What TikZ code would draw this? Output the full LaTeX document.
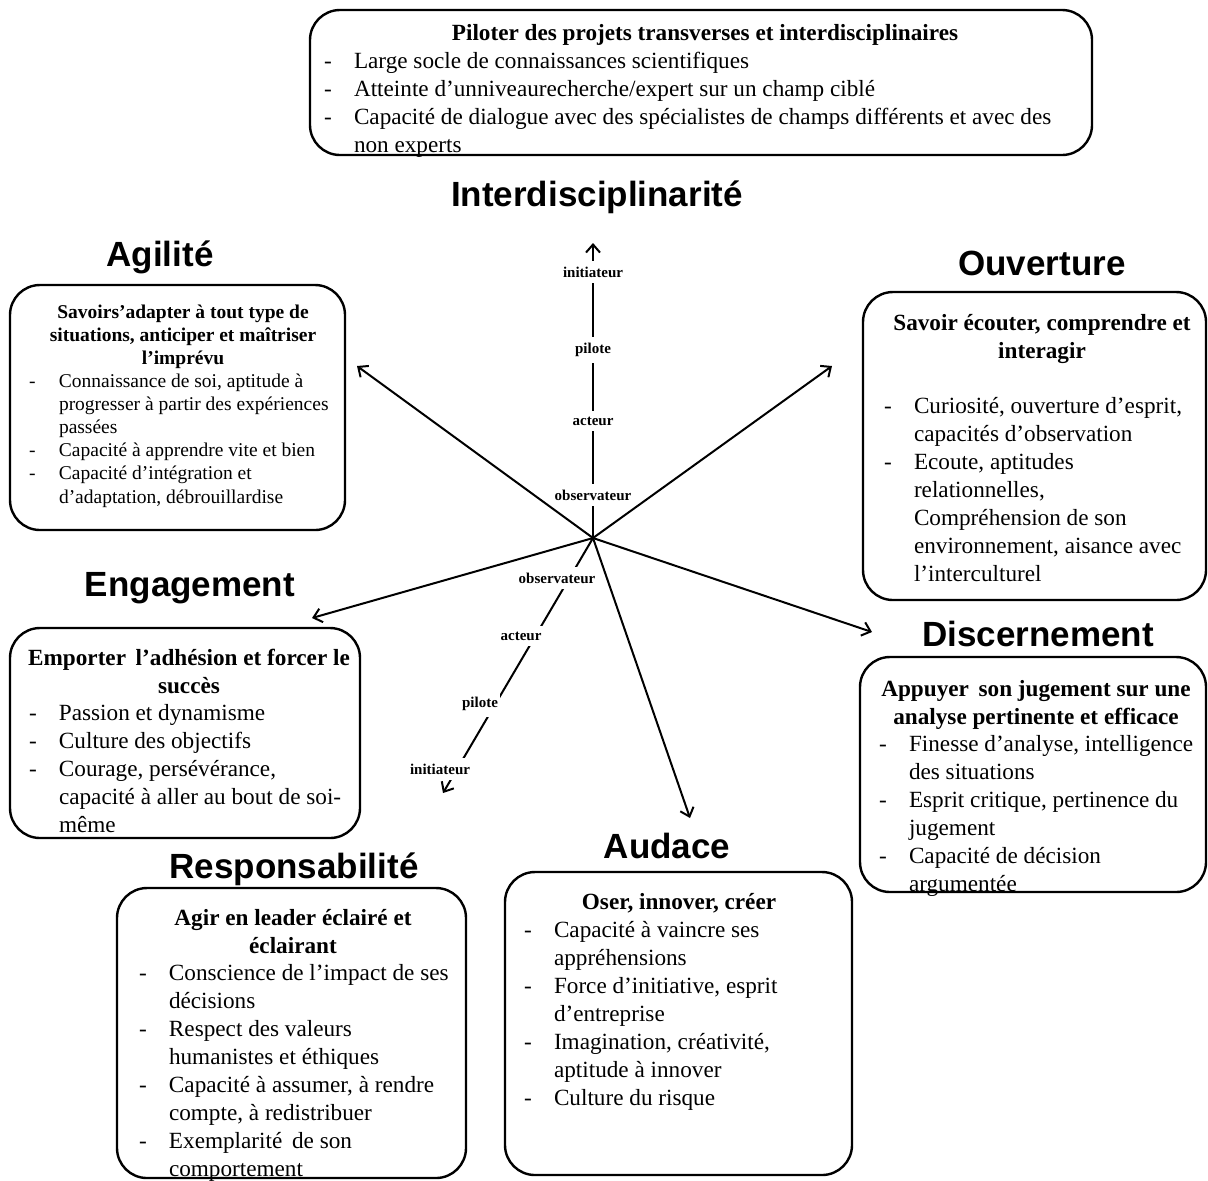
\documentclass[tikz,border=0pt]{standalone}
\usepackage{fontspec}
\setmainfont{Liberation Serif}
\setsansfont{Liberation Sans}
\usetikzlibrary{positioning,fit,arrows.meta}
\tikzset{every picture/.style={line width=1pt}}
\tikzset{
  ctbox/.style  ={rectangle, rounded corners=15pt, draw=black, line width=1.2pt, inner sep=0pt},
  cttext/.style ={anchor=north west, inner sep=0pt, font=\fontsize{11.6}{14}\selectfont},
  ctsmall/.style={font=\fontsize{9.75}{11.6}\selectfont},
  cttitle/.style={font=\sffamily\bfseries\fontsize{17.5}{20}\selectfont},
  ctaxis/.style ={-{Straight Barb[length=4pt,width=7pt]}, line width=1pt},
  ctlab/.style  ={fill=white, inner xsep=1pt, inner ysep=3pt, font=\bfseries\fontsize{7.5}{9}\selectfont},
}
\newlength{\ctw}
\newcommand{\ctBlock}[2]{\setlength{\ctw}{#1}%
  \begin{minipage}[t]{\dimexpr#1+30pt\relax}\raggedright\parindent=0pt #2\end{minipage}}
\newcommand{\ctHead}[1]{\par\noindent\makebox[\ctw]{\bfseries\begin{tabular}[t]{@{}c@{}}#1\end{tabular}}\par}
\newcommand{\ctItem}[1]{\par\begingroup\let\\\newline
  \noindent\hangindent=15pt\hangafter=1\makebox[15pt][l]{-}#1\par\endgroup}

\begin{document}
\begin{tikzpicture}[x=0.5pt, y=-0.5pt]
    \useasboundingbox (0,0) rectangle (1208,1180);
    % boxes
    \node[ctbox, fit={(310,10) (1092,155)}] (inBox) {};
    \node[ctbox, fit={(10,285) (345,530)}] (agBox) {};
    \node[ctbox, fit={(863,292) (1206,600)}] (ouBox) {};
    \node[ctbox, fit={(10,628) (360,838)}] (enBox) {};
    \node[ctbox, fit={(860,657) (1206,892)}] (diBox) {};
    \node[ctbox, fit={(117,888) (466,1178)}] (reBox) {};
    \node[ctbox, fit={(505,872) (852,1175)}] (auBox) {};
    % titles
    \node[cttitle] (inTitle) at (597,197) {Interdisciplinarité};
    \node[cttitle] (agTitle) at (160,257) {Agilité};
    \node[cttitle] (ouTitle) at (1042,263) {Ouverture};
    \node[cttitle] (enTitle) at (190,588) {Engagement};
    \node[cttitle] (diTitle) at (1038,634) {Discernement};
    \node[cttitle] (auTitle) at (667,846) {Audace};
    \node[cttitle] (reTitle) at (294,869) {Responsabilité};
    % texts
    \node[cttext] (inText) at (323,20) {\ctBlock{381pt}{%
      \ctHead{Piloter des projets transverses et interdisciplinaires}
      \ctItem{Large socle de connaissances scientifiques}
      \ctItem{Atteinte d’unniveaurecherche/expert sur un champ ciblé}
      \ctItem{Capacité de dialogue avec des spécialistes de champs différents et avec des\\non experts}}};
    \node[cttext, ctsmall] (agText) at (28,301) {\ctBlock{154pt}{%
      \ctHead{Savoirs’adapter à tout type de\\situations, anticiper et maîtriser\\l’imprévu}
      \ctItem{Connaissance de soi, aptitude à\\progresser à partir des expériences\\passées}
      \ctItem{Capacité à apprendre vite et bien}
      \ctItem{Capacité d’intégration et\\d’adaptation, débrouillardise}}};
    \node[cttext] (ouText) at (883,310) {\ctBlock{158pt}{%
      \ctHead{Savoir écouter, comprendre et\\interagir}
      \vspace{14pt}
      \ctItem{Curiosité, ouverture d’esprit,\\capacités d’observation}
      \ctItem{Ecoute, aptitudes\\relationnelles,\\Compréhension de son\\environnement, aisance avec\\l’interculturel}}};
    \node[cttext] (enText) at (28,645) {\ctBlock{160pt}{%
      \ctHead{Emporter \,l’adhésion et forcer le\\succès}
      \ctItem{Passion et dynamisme}
      \ctItem{Culture des objectifs}
      \ctItem{Courage, persévérance,\\capacité à aller au bout de soi-\\même}}};
    \node[cttext] (diText) at (878,676) {\ctBlock{157pt}{%
      \ctHead{Appuyer \,son jugement sur une\\analyse pertinente et efficace}
      \ctItem{Finesse d’analyse, intelligence\\des situations}
      \ctItem{Esprit critique, pertinence du\\jugement}
      \ctItem{Capacité de décision\\argumentée}}};
    \node[cttext] (reText) at (138,905) {\ctBlock{154pt}{%
      \ctHead{Agir en leader éclairé et\\éclairant}
      \ctItem{Conscience de l’impact de ses\\décisions}
      \ctItem{Respect des valeurs\\humanistes et éthiques}
      \ctItem{Capacité à assumer, à rendre\\compte, à redistribuer}
      \ctItem{Exemplarité \,de son\\comportement}}};
    \node[cttext] (auText) at (523,889) {\ctBlock{155pt}{%
      \ctHead{Oser, innover, créer}
      \ctItem{Capacité à vaincre ses\\appréhensions}
      \ctItem{Force d’initiative, esprit\\d’entreprise}
      \ctItem{Imagination, créativité,\\aptitude à innover}
      \ctItem{Culture du risque}}};
    % axes
    \coordinate (hub) at (593,538);
    \coordinate (upTip) at (593,243);
    \coordinate (agTip) at (357,366);
    \coordinate (ouTip) at (832,366);
    \coordinate (enTip) at (312,618);
    \coordinate (diTip) at (872,632);
    \coordinate (auTip) at (690,818);
    \coordinate (dnTip) at (443,793);
    \draw[ctaxis] (hub) -- (upTip);
    \draw[ctaxis] (hub) -- (agTip);
    \draw[ctaxis] (hub) -- (ouTip);
    \draw[ctaxis] (hub) -- (enTip);
    \draw[ctaxis] (hub) -- (diTip);
    \draw[ctaxis] (hub) -- (auTip);
    \draw[ctaxis] (hub) -- (dnTip);
    \node[ctlab] (upIni) at (593,272) {initiateur};
    \node[ctlab] (upPil) at (593,350) {pilote};
    \node[ctlab] (upAct) at (593,421) {acteur};
    \node[ctlab] (upObs) at (593,495) {observateur};
    \node[ctlab] (dnObs) at (557,578) {observateur};
    \node[ctlab] (dnAct) at (521,636) {acteur};
    \node[ctlab] (dnPil) at (480,704) {pilote};
    \node[ctlab] (dnIni) at (440,769) {initiateur};
\end{tikzpicture}
\end{document}
